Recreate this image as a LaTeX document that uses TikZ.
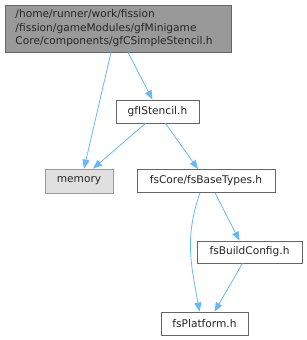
\documentclass[tikz,border=0pt]{standalone}
\usepackage{fontspec}
\setmainfont{DejaVu Sans}
\usepackage{xcolor}
\usepackage{tikz}
\usetikzlibrary{arrows.meta,calc}

\definecolor{edgeblue}{HTML}{63B8FF}
\definecolor{boxline}{HTML}{666666}
\definecolor{topfill}{HTML}{999999}
\definecolor{extfill}{HTML}{E0E0E0}
\definecolor{extline}{HTML}{999999}

\tikzset{
  filebox/.style={draw=boxline, fill=white, line width=0.8pt, inner sep=0pt,
    font=\fontsize{10.6}{13.5}\selectfont, text=black!85},
  extbox/.style={filebox, draw=extline, fill=extfill},
  edge/.style={draw=edgeblue, line width=0.8pt, -{Triangle[length=9pt,width=7pt]}}
}

\begin{document}
\begin{tikzpicture}[x=1pt,y=-1pt]
  \useasboundingbox (0,0) rectangle (307,340);

  \node[filebox, fill=topfill, minimum width=226pt, minimum height=47pt,
        align=left, text width=205pt] (top) at (118,28.5)
    {/home/runner/work/fission\\/fission/gameModules/gfMinigame\\Core/components/gfCSimpleStencil.h};

  \node[filebox, minimum width=83pt, minimum height=23pt] (stencil) at (157.5,111.5) {gfIStencil.h};
  \node[extbox, minimum width=68pt, minimum height=24pt] (memory) at (79,181) {memory};
  \node[filebox, minimum width=138pt, minimum height=23pt] (basetypes) at (206,181) {fsCore/fsBaseTypes.h};
  \node[filebox, minimum width=105pt, minimum height=22pt] (buildcfg) at (249.5,252) {fsBuildConfig.h};
  \node[filebox, minimum width=87pt, minimum height=23pt] (platform) at (204.5,323.5) {fsPlatform.h};

  \draw[edge] ([xshift=-7pt]top.south) -- ([xshift=5pt]memory.north);
  \draw[edge] ([xshift=10pt]top.south) -- ([xshift=-5pt]stencil.north);
  \draw[edge] ([xshift=-12pt]stencil.south) -- ([xshift=14pt]memory.north);
  \draw[edge] ([xshift=8pt]stencil.south) -- ([xshift=-8pt]basetypes.north);
  \draw[edge] ([xshift=-6pt]basetypes.south) .. controls +(-16,45) and +(-8,-45) .. ([xshift=-5pt]platform.north);
  \draw[edge] ([xshift=9pt]basetypes.south) -- ([xshift=-10pt]buildcfg.north);
  \draw[edge] ([xshift=-7pt]buildcfg.south) -- ([xshift=10pt]platform.north);
\end{tikzpicture}
\end{document}
